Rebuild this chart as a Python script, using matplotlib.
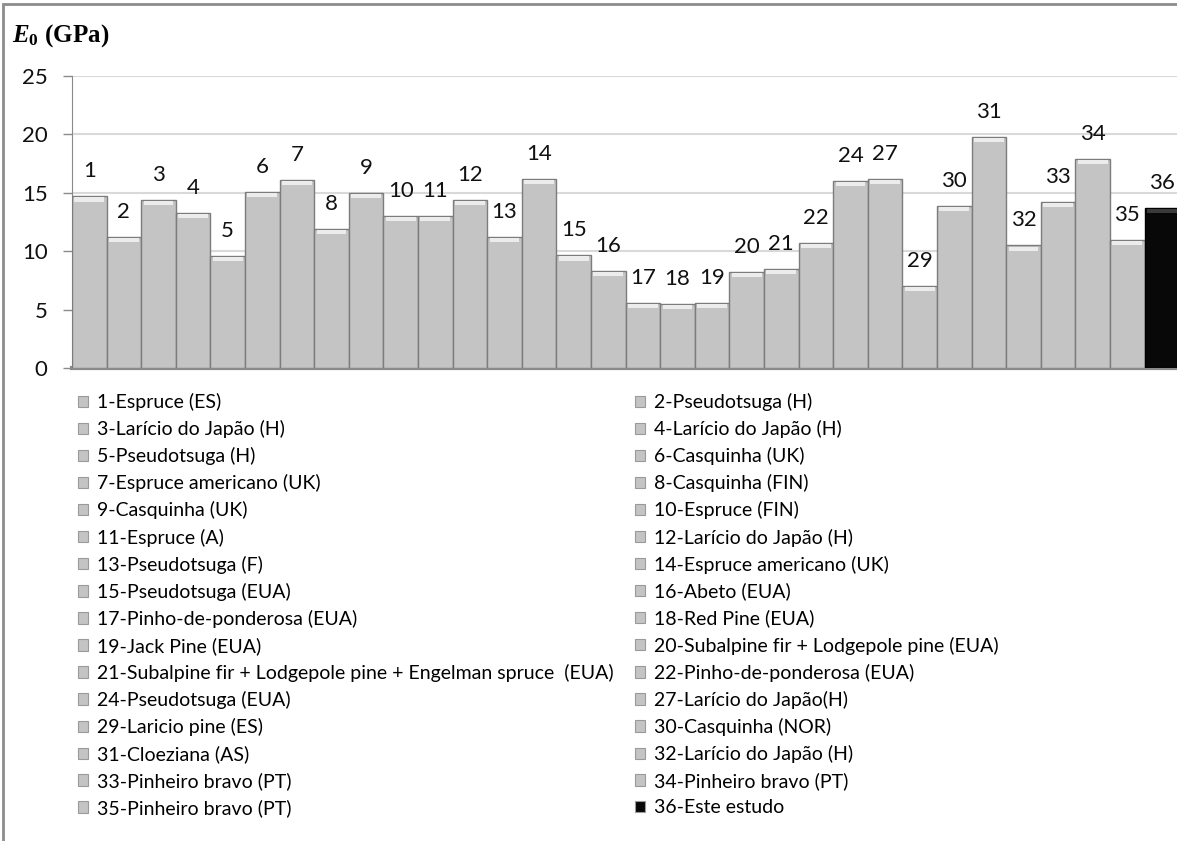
import matplotlib
matplotlib.use("Agg")
import matplotlib.pyplot as plt
from matplotlib.patches import Patch, Rectangle
import numpy as np

plt.rcParams['font.family'] = ['Lato', 'DejaVu Sans']
plt.rcParams['mathtext.fontset'] = 'custom'
plt.rcParams['mathtext.rm'] = 'Liberation Serif:bold'
plt.rcParams['mathtext.bf'] = 'Liberation Serif:bold'
plt.rcParams['mathtext.it'] = 'Liberation Serif:italic:bold'

# bar numbers and E0 values (GPa)
ids = [1, 2, 3, 4, 5, 6, 7, 8, 9, 10, 11, 12, 13, 14, 15, 16, 17, 18, 19,
       20, 21, 22, 24, 27, 29, 30, 31, 32, 33, 34, 35, 36]
e0 = [14.7, 11.2, 14.4, 13.3, 9.6, 15.1, 16.1, 11.9, 15.0, 13.0, 13.0, 14.4,
      11.2, 16.2, 9.65, 8.3, 5.6, 5.5, 5.6, 8.2, 8.5, 10.7, 16.0, 16.2, 7.0,
      13.9, 19.8, 10.5, 14.2, 17.9, 11.0, 13.7]
names = ["1-Espruce (ES)", "2-Pseudotsuga (H)", "3-Larício do Japão (H)",
         "4-Larício do Japão (H)", "5-Pseudotsuga (H)", "6-Casquinha (UK)",
         "7-Espruce americano (UK)", "8-Casquinha (FIN)", "9-Casquinha (UK)",
         "10-Espruce (FIN)", "11-Espruce (A)", "12-Larício do Japão (H)",
         "13-Pseudotsuga (F)", "14-Espruce americano (UK)",
         "15-Pseudotsuga (EUA)", "16-Abeto (EUA)",
         "17-Pinho-de-ponderosa (EUA)", "18-Red Pine (EUA)",
         "19-Jack Pine (EUA)", "20-Subalpine fir + Lodgepole pine (EUA)",
         "21-Subalpine fir + Lodgepole pine + Engelman spruce  (EUA)",
         "22-Pinho-de-ponderosa (EUA)", "24-Pseudotsuga (EUA)",
         "27-Larício do Japão(H)", "29-Laricio pine (ES)",
         "30-Casquinha (NOR)", "31-Cloeziana (AS)", "32-Larício do Japão (H)",
         "33-Pinheiro bravo (PT)", "34-Pinheiro bravo (PT)",
         "35-Pinheiro bravo (PT)", "36-Este estudo"]

W, H = 1177, 841
fig = plt.figure(figsize=(W / 100, H / 100), dpi=100)
ax = fig.add_axes([72 / W, 1 - 368 / H, (W - 72) / W, (368 - 76) / H])

x = np.arange(len(ids))
colors = ['#c4c4c4'] * (len(ids) - 1) + ['#080808']
edges = ['#7c7c7c'] * (len(ids) - 1) + ['#000000']
ax.bar(x, e0, width=1.0, color=colors, edgecolor=edges, linewidth=1.0, zorder=3)
# light bevel at the top of each bar
e0a = np.array(e0)
hl = ['#ececec'] * (len(ids) - 1) + ['#3a3a3a']
ax.bar(x, 0.35, bottom=e0a - 0.45, width=0.86, color=hl, linewidth=0, zorder=4)

for xi, v, n in zip(x, e0, ids):
    ax.annotate(str(n), (xi, v), xytext=(0, 25), textcoords='offset pixels',
                ha='center', va='center', fontsize=16, color='#111111')

ax.set_ylim(0, 25)
ax.set_xlim(-0.5, -0.5 + (W - 72) / 34.6)
ax.set_yticks(range(0, 26, 5))
ax.yaxis.grid(True, color='#d9d9d9', linewidth=1.5, zorder=0)
ax.set_axisbelow(True)
ax.set_xticks([])
ax.tick_params(axis='y', length=6.5, width=1, color='#8a8a8a', pad=11,
               labelsize=16, labelcolor='#111111')
for s in ['top', 'right']:
    ax.spines[s].set_visible(False)
ax.spines['left'].set_color('#8a8a8a')
ax.spines['bottom'].set_color('#8a8a8a')
ax.spines['bottom'].set_linewidth(3)
ax.patch.set_alpha(0)

fig.text(12 / W, 1 - 36 / H, r'$E_\mathbf{0}$ (GPa)', fontsize=18,
         family='Liberation Serif', weight='bold', ha='left', va='center')

# legend, row by row like the original
handles = [Patch(facecolor=c, edgecolor='#9a9a9a', linewidth=0.8) for c in colors]
order = list(range(0, len(ids), 2)) + list(range(1, len(ids), 2))
fig.legend([handles[i] for i in order], [names[i] for i in order],
           ncol=2, loc='upper left', bbox_to_anchor=(78 / W, 1 - 393 / H),
           frameon=False, fontsize=14, borderpad=0, borderaxespad=0,
           handlelength=0.52, handleheight=0.52, handletextpad=0.45,
           labelspacing=0.465, columnspacing=1.1)

fig.patches.append(Rectangle((3 / W, -0.1), 2, (H - 4) / H + 0.1,
                             transform=fig.transFigure, fill=False,
                             edgecolor='#8c8c8c', linewidth=2))

fig.savefig('out.png', dpi=100)
